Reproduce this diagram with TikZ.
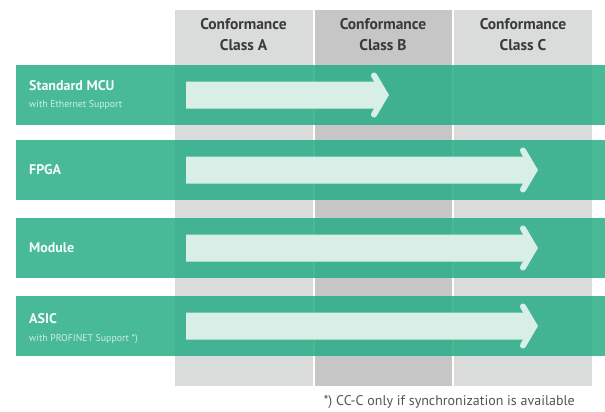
\documentclass[tikz,border=0pt]{standalone}
\usepackage{fontspec}
\setmainfont{PT Sans}
\definecolor{colAC}{HTML}{DADBDB}
\definecolor{colBC}{HTML}{C6C6C6}
\definecolor{bandc}{RGB}{41,174,135}
\definecolor{arrowc}{HTML}{D8EFE8}
\definecolor{hdrc}{HTML}{3A3A3A}
\definecolor{subc}{HTML}{D2EDE4}
\definecolor{titc}{HTML}{F4FBF8}
\definecolor{notec}{HTML}{555555}
\newcommand\profarrow[2]{%
  \fill[arrowc] (186,#1-13.5) -- (#2-11,#1-13.5) -- (#2-4,#1) -- (#2-11,#1+13.5) -- (186,#1+13.5) -- cycle;
  \draw[arrowc, line width=6pt, line cap=round, line join=miter] (#2-15,#1-19.5) -- (#2-3.5,#1) -- (#2-15,#1+19.5);
}
\begin{document}
\begin{tikzpicture}[x=1pt,y=-1pt,
  colbox/.style={inner sep=0pt, outer sep=0pt, minimum width=137.5pt, minimum height=376pt, anchor=north west},
  bandbox/.style={fill=bandc, fill opacity=0.85, inner sep=0pt, outer sep=0pt, minimum width=589pt, minimum height=60pt, anchor=north west},
  hdrtext/.style={anchor=base, text=hdrc, inner sep=0pt, font=\fontsize{15.5}{17}\selectfont\bfseries},
  tittext/.style={anchor=base west, text=titc, inner sep=0pt, font=\fontsize{14}{16}\selectfont\bfseries},
  subtext/.style={anchor=base west, text=subc, inner sep=0pt, font=\fontsize{9.8}{11}\selectfont},
  notetext/.style={anchor=base east, text=notec, inner sep=0pt, font=\fontsize{14}{16}\selectfont}]
\useasboundingbox[fill=white] (0,0) rectangle (605,412);
% columns
\node[colbox, fill=colAC] (colA) at (175,10) {};
\node[colbox, fill=colBC] (colB) at (314.5,10) {};
\node[colbox, fill=colAC] (colC) at (454,10) {};
% headers
\node[hdrtext] (hA1) at (243.5,30) {Conformance};
\node[hdrtext] (hA2) at (243.5,51) {Class A};
\node[hdrtext] (hB1) at (383,30) {Conformance};
\node[hdrtext] (hB2) at (383,51) {Class B};
\node[hdrtext] (hC1) at (523,30) {Conformance};
\node[hdrtext] (hC2) at (523,51) {Class C};
% bands
\node[bandbox] (b1) at (16,65) {};
\node[bandbox] (b2) at (16,140) {};
\node[bandbox] (b3) at (16,218) {};
\node[bandbox] (b4) at (16,296) {};
% arrows
\profarrow{95}{389}
\profarrow{170}{538}
\profarrow{248}{538}
\profarrow{326}{538}
% band texts
\node[tittext] (t1) at (29,91) {Standard MCU};
\node[subtext] (s1) at (29,107.5) {with Ethernet Support};
\node[tittext, anchor=west] (t2) at (29,170) {FPGA};
\node[tittext, anchor=west] (t3) at (29,248) {Module};
\node[tittext] (t4) at (29,323) {ASIC};
\node[subtext] (s4) at (29,341) {with PROFINET Support *)};
% footnote
\node[notetext] (note) at (575,405.5) {*) CC-C only if synchronization is available};
\end{tikzpicture}
\end{document}
